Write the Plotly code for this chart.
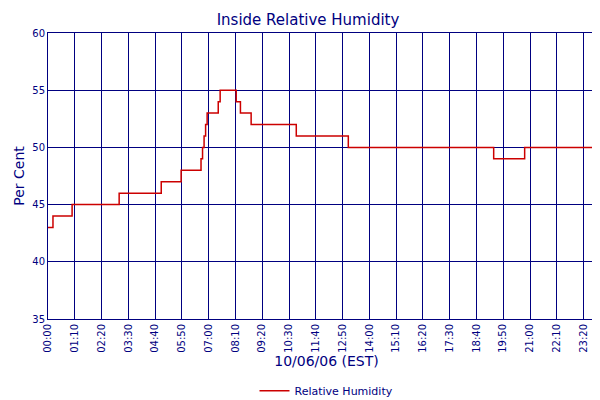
import plotly.graph_objects as go

minutes = [0, 3, 13, 60, 63, 186, 296, 348, 400, 404, 408, 412, 416, 421, 445, 450, 488, 492, 503, 531, 649, 785, 1165, 1246, 1455]
humidity = [43, 43, 44, 44, 45, 46, 47, 48, 49, 50, 51, 52, 53, 53, 54, 55, 55, 54, 53, 52, 51, 50, 49, 50, 50]
tick_labels = ["00:00","01:10","02:20","03:30","04:40","05:50","07:00","08:10","09:20","10:30","11:40",
               "12:50","14:00","15:10","16:20","17:30","18:40","19:50","21:00","22:10","23:20","00:15"]
tick_vals = [0,70,140,210,280,350,420,490,560,630,700,770,840,910,980,1050,1120,1190,1260,1330,1400,1455]

navy = "#000080"
fig = go.Figure(go.Scatter(x=minutes, y=humidity, mode="lines", line_shape="hv",
                           line=dict(color="#cc0000", width=1.5), name="Relative Humidity"))
fig.update_layout(
    width=600, height=400, plot_bgcolor="white", paper_bgcolor="white",
    font=dict(family="DejaVu Sans", color=navy, size=11),
    title=dict(text="Inside Relative Humidity", x=0.5, y=0.985, yanchor="top", xanchor="center",
               font=dict(size=15, color=navy)),
    margin=dict(l=40, r=3, t=25, b=82),
    showlegend=True,
    legend=dict(orientation="h", x=0.5, xanchor="center", y=-0.2, yanchor="top", font=dict(size=11)),
)
fig.update_xaxes(range=[0, 1456], tickvals=tick_vals, ticktext=tick_labels, tickangle=-90,
                 showgrid=True, gridcolor=navy, gridwidth=1, showline=True, linecolor=navy, mirror=True,
                 tickfont=dict(size=10), zeroline=False, automargin=False,
                 title=dict(text="10/06/06 (EST)", font=dict(size=14, color=navy), standoff=3))
fig.update_yaxes(range=[35, 60], dtick=5, showgrid=True, gridcolor=navy, gridwidth=1,
                 showline=True, linecolor=navy, mirror=True, tickfont=dict(size=10), zeroline=False,
                 automargin=False,
                 title=dict(text="Per Cent", font=dict(size=14, color=navy), standoff=4))
fig.write_html("out.html")
